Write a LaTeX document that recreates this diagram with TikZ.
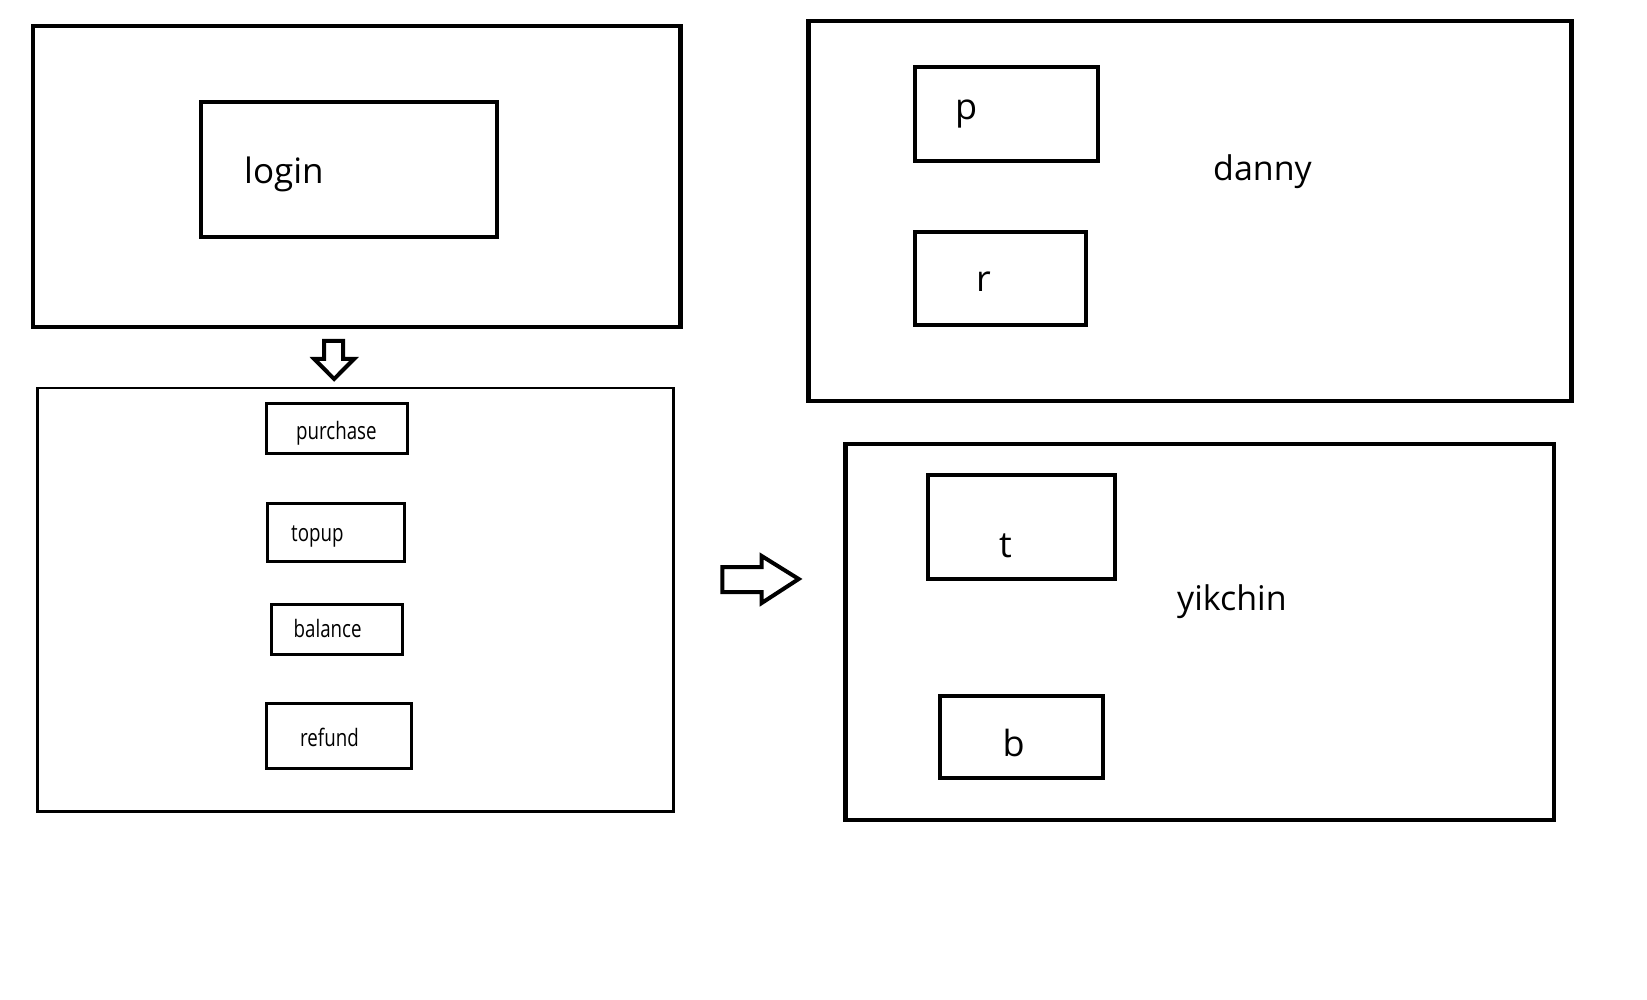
\documentclass[tikz,border=0pt]{standalone}
\usepackage{fontspec}
\setmainfont{Open Sans}
\newcommand{\narrowtxt}[1]{\scalebox{0.78}[1]{#1}}
\begin{document}
\begin{tikzpicture}[x=1pt,y=-1pt,
  frame/.style={draw, line width=4.5pt, inner sep=0pt, outer sep=0pt},
  thinframe/.style={draw, line width=2.7pt, inner sep=0pt, outer sep=0pt},
  midbox/.style={draw, line width=4pt, inner sep=0pt, outer sep=0pt},
  smallbox/.style={draw, line width=3pt, inner sep=0pt, outer sep=0pt},
  bigtxt/.style={inner sep=0pt, anchor=base west, font=\fontsize{34}{41}\selectfont},
  lettertxt/.style={inner sep=0pt, anchor=base west, font=\fontsize{36}{43}\selectfont},
  smalltxt/.style={inner sep=0pt, anchor=base west, font=\fontsize{24}{29}\selectfont},
  blockarrow/.style={draw, line width=4pt, line join=miter, fill=white}]
\useasboundingbox (0,0) rectangle (1647,1000);

% login area
\node[frame, minimum width=647.9pt, minimum height=301pt] (loginframe) at (356.7,176.5) {};
\node[midbox, minimum width=296pt, minimum height=135pt] (loginbox) at (349.3,169.5) {};
\node[bigtxt, font=\fontsize{35}{42}\selectfont] (logintxt) at (244,184) {login};

% down arrow
\draw[blockarrow] (324.2,341) -- (343.1,341) -- (343.1,359) -- (354,359) -- (334.1,379) -- (314.3,359) -- (324.2,359) -- cycle;

% menu area
\node[thinframe, minimum width=636pt, minimum height=423.5pt] (menuframe) at (355.7,599.75) {};
\node[smallbox, minimum width=141.3pt, minimum height=50pt] (purchasebox) at (336.9,428.5) {};
\node[smalltxt] (purchasetxt) at (296,439) {\narrowtxt{purchase}};
\node[smallbox, minimum width=136.3pt, minimum height=58pt] (topupbox) at (335.9,532) {};
\node[smalltxt] (topuptxt) at (291,541) {\narrowtxt{topup}};
\node[smallbox, minimum width=130.9pt, minimum height=50pt] (balancebox) at (337.1,629) {};
\node[smalltxt] (balancetxt) at (293.5,637) {\narrowtxt{balance}};
\node[smallbox, minimum width=144.8pt, minimum height=65pt] (refundbox) at (339.1,735.5) {};
\node[smalltxt] (refundtxt) at (300,746) {\narrowtxt{refund}};

% right arrow
\draw[blockarrow] (722.4,567) -- (761.7,567) -- (761.7,556) -- (798.7,579) -- (761.7,603) -- (761.7,592) -- (722.4,592) -- cycle;

% danny area
\node[frame, minimum width=763pt, minimum height=380pt] (dannyframe) at (1190,211) {};
\node[midbox, minimum width=182.4pt, minimum height=94pt] (pbox) at (1006.4,114) {};
\node[lettertxt] (ptxt) at (955,120) {p};
\node[midbox, minimum width=170.5pt, minimum height=93pt] (rbox) at (1000.4,278.5) {};
\node[lettertxt] (rtxt) at (976,292) {r};
\node[bigtxt] (dannytxt) at (1213,181) {danny};

% yikchin area
\node[frame, minimum width=708.9pt, minimum height=376pt] (yikframe) at (1199.7,632) {};
\node[midbox, minimum width=187.4pt, minimum height=104pt] (tbox) at (1021.7,527) {};
\node[lettertxt] (ttxt) at (999,557) {t};
\node[midbox, minimum width=162.6pt, minimum height=82pt] (bbox) at (1021.2,736.5) {};
\node[lettertxt] (btxt) at (1002.5,756) {b};
\node[bigtxt] (yiktxt) at (1177,610) {yikchin};
\end{tikzpicture}
\end{document}
